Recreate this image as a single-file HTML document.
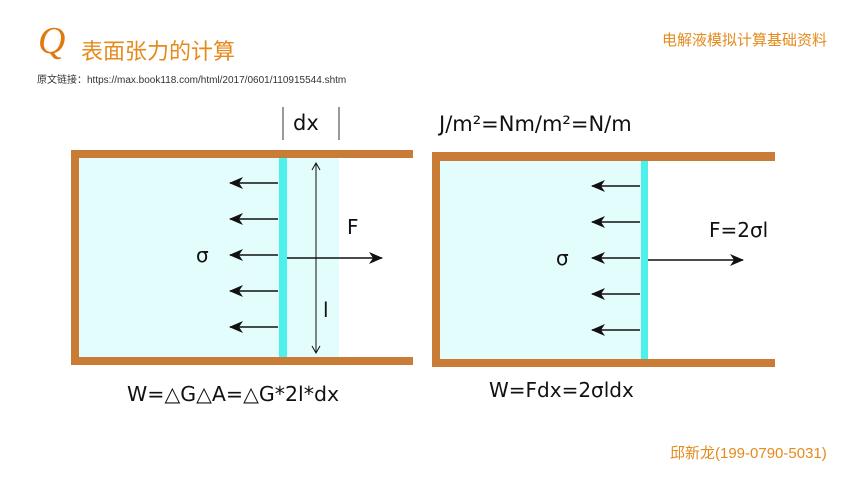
<!DOCTYPE html>
<html><head><meta charset="utf-8"><style>
body{margin:0;width:860px;height:484px;background:#fff;position:relative;overflow:hidden;font-family:"DejaVu Sans","Noto Sans CJK SC",sans-serif}
.t{position:absolute;white-space:nowrap}
</style></head><body>
<svg width="860" height="484" style="position:absolute;left:0;top:0">
<defs><marker id="a" markerWidth="14" markerHeight="12" refX="13" refY="6" orient="auto" markerUnits="userSpaceOnUse"><path d="M0,0 L14,6 L0,12 L4,6z" fill="#111"/></marker></defs>
<rect x="79" y="158" width="260" height="199" fill="#e3fcfc"/>
<rect x="71" y="150" width="342" height="8" fill="#c97c36"/>
<rect x="71" y="357" width="342" height="8" fill="#c97c36"/>
<rect x="71" y="150" width="8" height="215" fill="#c97c36"/>
<rect x="279" y="158" width="8" height="199" fill="#4ef0ec"/>
<g stroke="#111" stroke-width="1.5" marker-end="url(#a)">
<line x1="278" y1="183" x2="230" y2="183"/><line x1="278" y1="219" x2="230" y2="219"/><line x1="278" y1="255" x2="230" y2="255"/><line x1="278" y1="291" x2="230" y2="291"/><line x1="278" y1="327" x2="230" y2="327"/>
<line x1="287" y1="258" x2="382" y2="258"/>
</g>
<line x1="316" y1="163" x2="316" y2="353" stroke="#111" stroke-width="1"/>
<path d="M312,170 L316,163 L320,170 M312,346 L316,353 L320,346" fill="none" stroke="#111" stroke-width="1"/>
<line x1="283" y1="107" x2="283" y2="140" stroke="#333" stroke-width="1"/>
<line x1="339" y1="107" x2="339" y2="140" stroke="#333" stroke-width="1"/>
<rect x="440" y="161" width="201" height="198" fill="#e3fcfc"/>
<rect x="432" y="152" width="343" height="9" fill="#c97c36"/>
<rect x="432" y="359" width="343" height="8" fill="#c97c36"/>
<rect x="432" y="152" width="8" height="215" fill="#c97c36"/>
<rect x="641" y="161" width="7" height="198" fill="#4ef0ec"/>
<g stroke="#111" stroke-width="1.5" marker-end="url(#a)">
<line x1="640" y1="186" x2="592" y2="186"/><line x1="640" y1="222" x2="592" y2="222"/><line x1="640" y1="258" x2="592" y2="258"/><line x1="640" y1="294" x2="592" y2="294"/><line x1="640" y1="330" x2="592" y2="330"/>
<line x1="648" y1="260" x2="743" y2="260"/>
</g>
</svg>
<div class="t" style="left:38px;top:22px;font:italic 38px 'Liberation Serif',serif;color:#e07a10;line-height:38px">Q</div>
<div class="t" style="left:81px;top:34px;font-size:22px;color:#e58a1c">表面张力的计算</div>
<div class="t" style="left:37px;top:71px;font-size:10px;color:#333;font-family:'Liberation Sans','Noto Sans CJK SC',sans-serif">原文链接：https://max.book118.com/html/2017/0601/110915544.shtm</div>
<div class="t" style="left:662px;top:29px;font-size:15px;color:#e58a1c">电解液模拟计算基础资料</div>
<div class="t" style="left:293px;top:111px;font-size:21px;color:#111">dx</div>
<div class="t" style="left:439px;top:112px;font-size:21px;color:#111">J/m²=Nm/m²=N/m</div>
<div class="t" style="left:196px;top:243px;font-size:20px;color:#111">σ</div>
<div class="t" style="left:347px;top:215px;font-size:20px;color:#111">F</div>
<div class="t" style="left:323px;top:298px;font-size:20px;color:#111">l</div>
<div class="t" style="left:556px;top:246px;font-size:20px;color:#111">σ</div>
<div class="t" style="left:709px;top:218px;font-size:20px;color:#111">F=2σl</div>
<div class="t" style="left:127px;top:382px;font-size:20.5px;color:#111">W=△G△A=△G*2l*dx</div>
<div class="t" style="left:489px;top:378px;font-size:20px;color:#111">W=Fdx=2σldx</div>
<div class="t" style="left:670px;top:442px;font-size:15px;color:#e58a1c;font-family:'Liberation Sans','Noto Sans CJK SC',sans-serif">邱新龙(199-0790-5031)</div>
</body></html>
